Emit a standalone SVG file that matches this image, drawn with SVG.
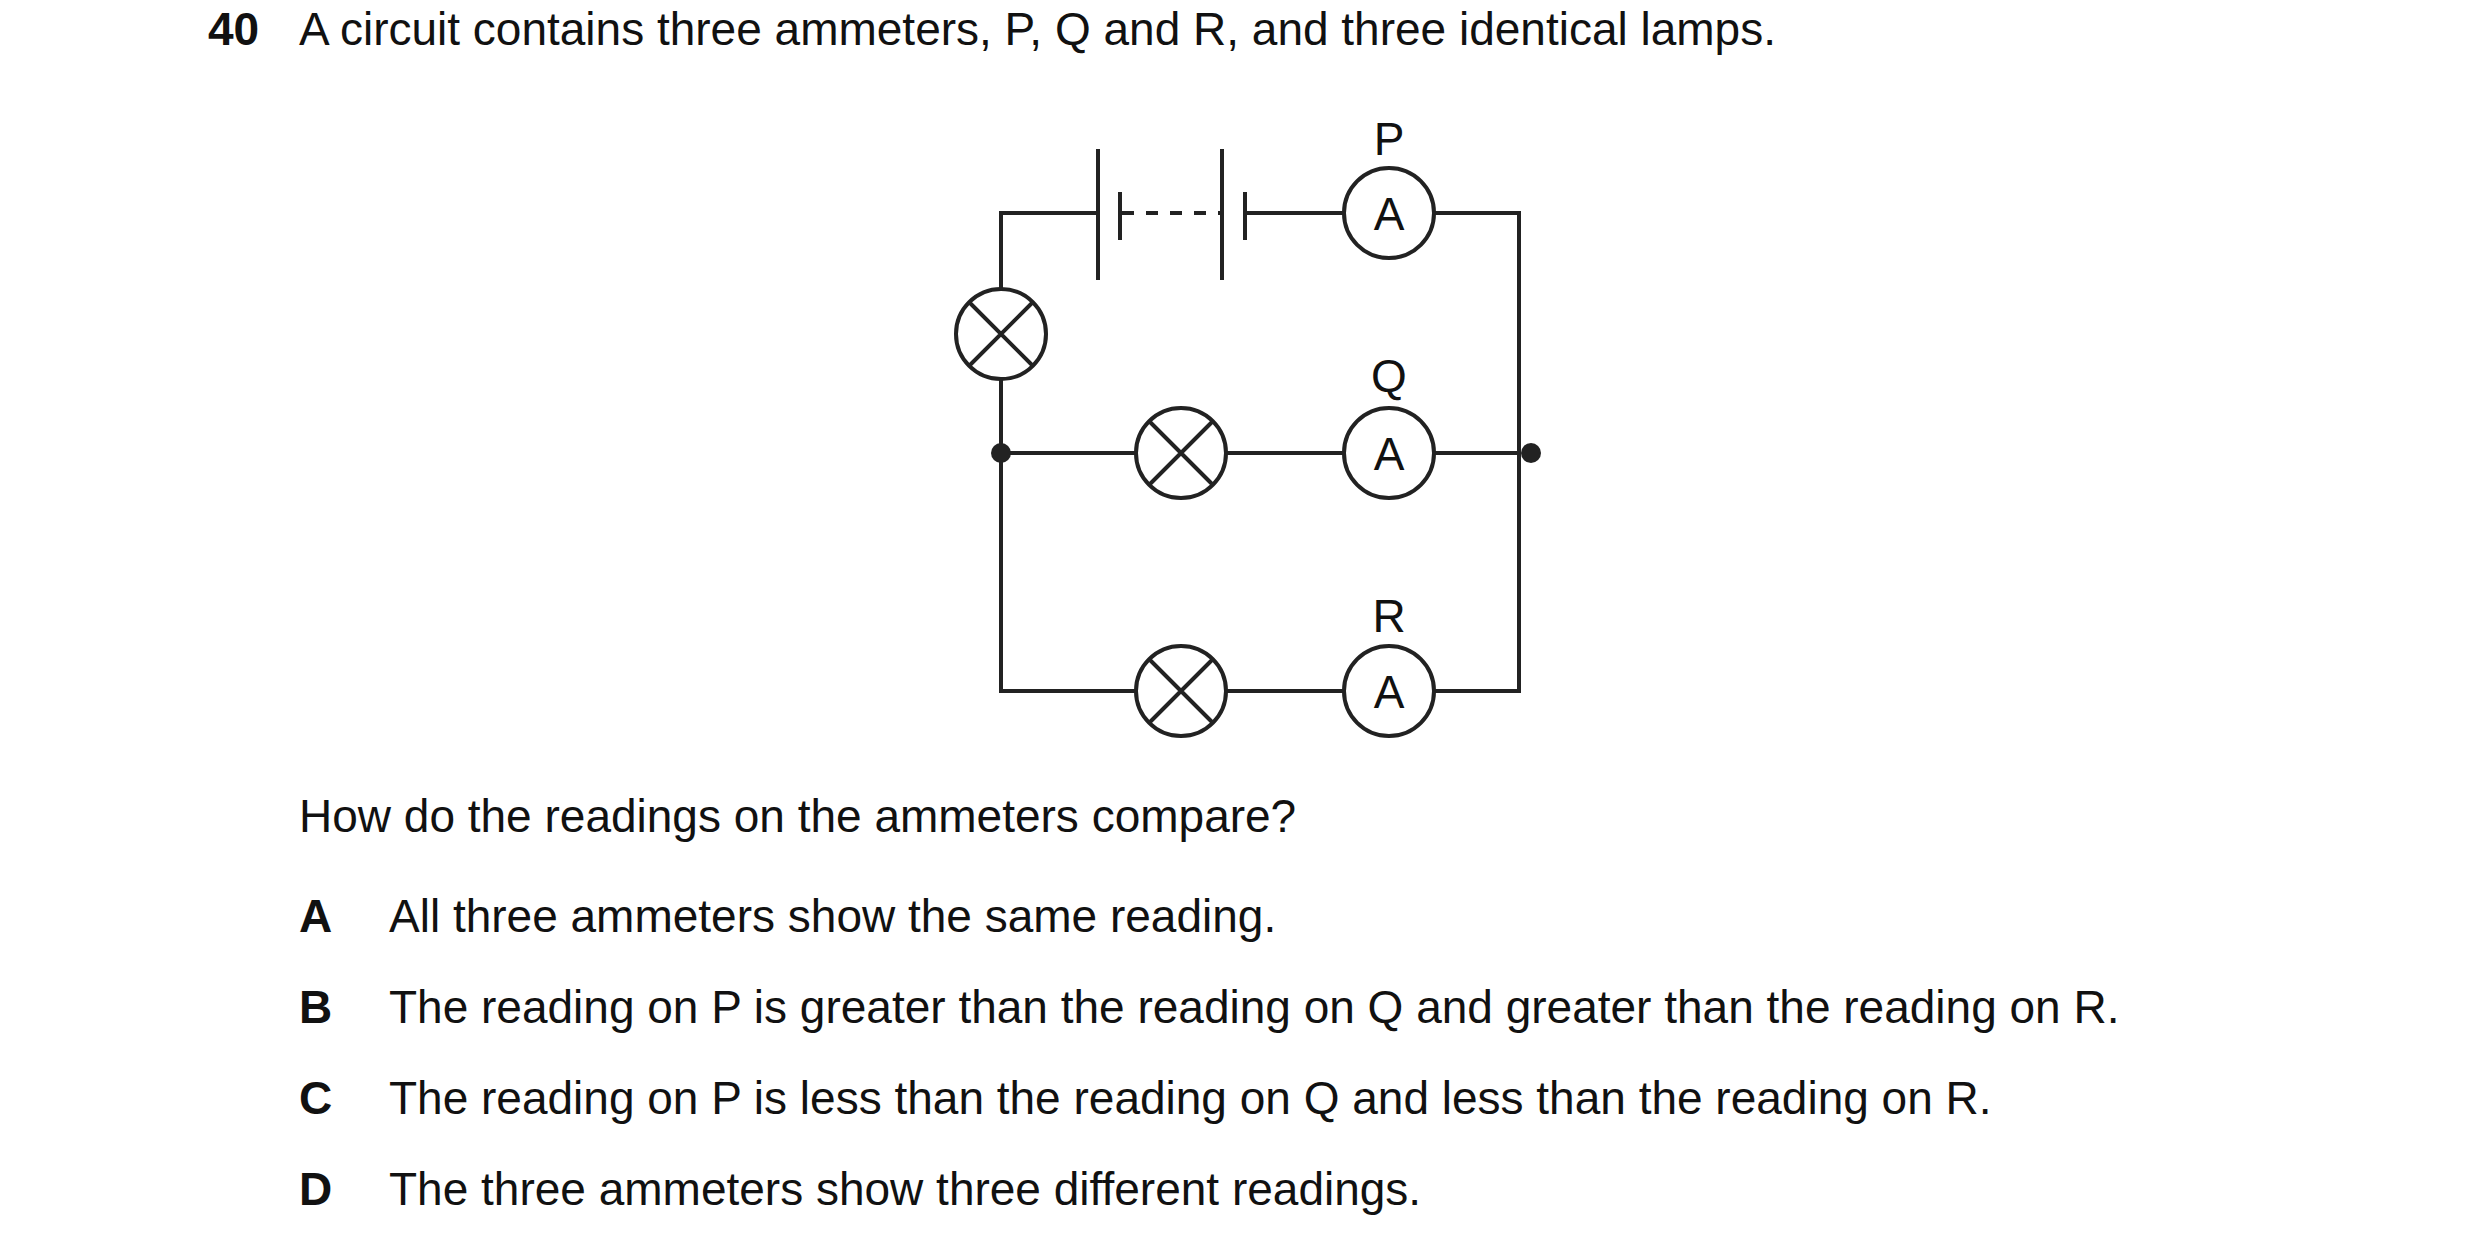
<svg xmlns="http://www.w3.org/2000/svg" width="2480" height="1236" viewBox="0 0 2480 1236">
<style>
text{font-family:"Liberation Sans",Arial,sans-serif;fill:#111}
.t{font-size:46px}
.b{font-weight:bold}
.w{fill:none;stroke:#222;stroke-width:4}
.c{fill:#fff;stroke:#222;stroke-width:4}
.l{font-size:46px;text-anchor:middle}
</style>
<rect width="2480" height="1236" fill="#fff"/>
<text class="t b" x="208" y="45">40</text>
<text class="t" x="299" y="45">A circuit contains three ammeters, P, Q and R, and three identical lamps.</text>
<g id="wires" class="w">
<polyline points="1098,213 1001,213 1001,691 1519,691 1519,213 1378,213"/>
<line x1="1001" y1="453" x2="1519" y2="453"/>
<line x1="1245" y1="213" x2="1378" y2="213"/>
</g>
<g id="battery" class="w">
<line x1="1098" y1="149" x2="1098" y2="280"/>
<line x1="1120" y1="192" x2="1120" y2="240"/>
<line x1="1122" y1="213" x2="1220" y2="213" stroke-dasharray="12,12"/>
<line x1="1222" y1="149" x2="1222" y2="280"/>
<line x1="1245" y1="192" x2="1245" y2="240"/>
</g>
<g id="lamp1"><circle class="c" cx="1001" cy="334" r="45"/><path class="w" d="M969,302 L1033,366 M1033,302 L969,366"/></g>
<g id="lamp2"><circle class="c" cx="1181" cy="453" r="45"/><path class="w" d="M1149,421 L1213,485 M1213,421 L1149,485"/></g>
<g id="lamp3"><circle class="c" cx="1181" cy="691" r="45"/><path class="w" d="M1149,659 L1213,723 M1213,659 L1149,723"/></g>
<g id="ammeterP"><circle class="c" cx="1389" cy="213" r="45"/><text class="l" x="1389" y="230">A</text><text class="l" x="1389" y="155">P</text></g>
<g id="ammeterQ"><circle class="c" cx="1389" cy="453" r="45"/><text class="l" x="1389" y="470">A</text><text class="l" x="1389" y="392">Q</text></g>
<g id="ammeterR"><circle class="c" cx="1389" cy="691" r="45"/><text class="l" x="1389" y="708">A</text><text class="l" x="1389" y="632">R</text></g>
<g id="junctions" fill="#222"><circle cx="1001" cy="453" r="10"/><circle cx="1531" cy="453" r="10"/></g>
<text class="t" x="299" y="832">How do the readings on the ammeters compare?</text>
<text class="t b" x="299" y="932">A</text><text class="t" x="389" y="932">All three ammeters show the same reading.</text>
<text class="t b" x="299" y="1023">B</text><text class="t" x="389" y="1023">The reading on P is greater than the reading on Q and greater than the reading on R.</text>
<text class="t b" x="299" y="1114">C</text><text class="t" x="389" y="1114">The reading on P is less than the reading on Q and less than the reading on R.</text>
<text class="t b" x="299" y="1205">D</text><text class="t" x="389" y="1205">The three ammeters show three different readings.</text>
</svg>
